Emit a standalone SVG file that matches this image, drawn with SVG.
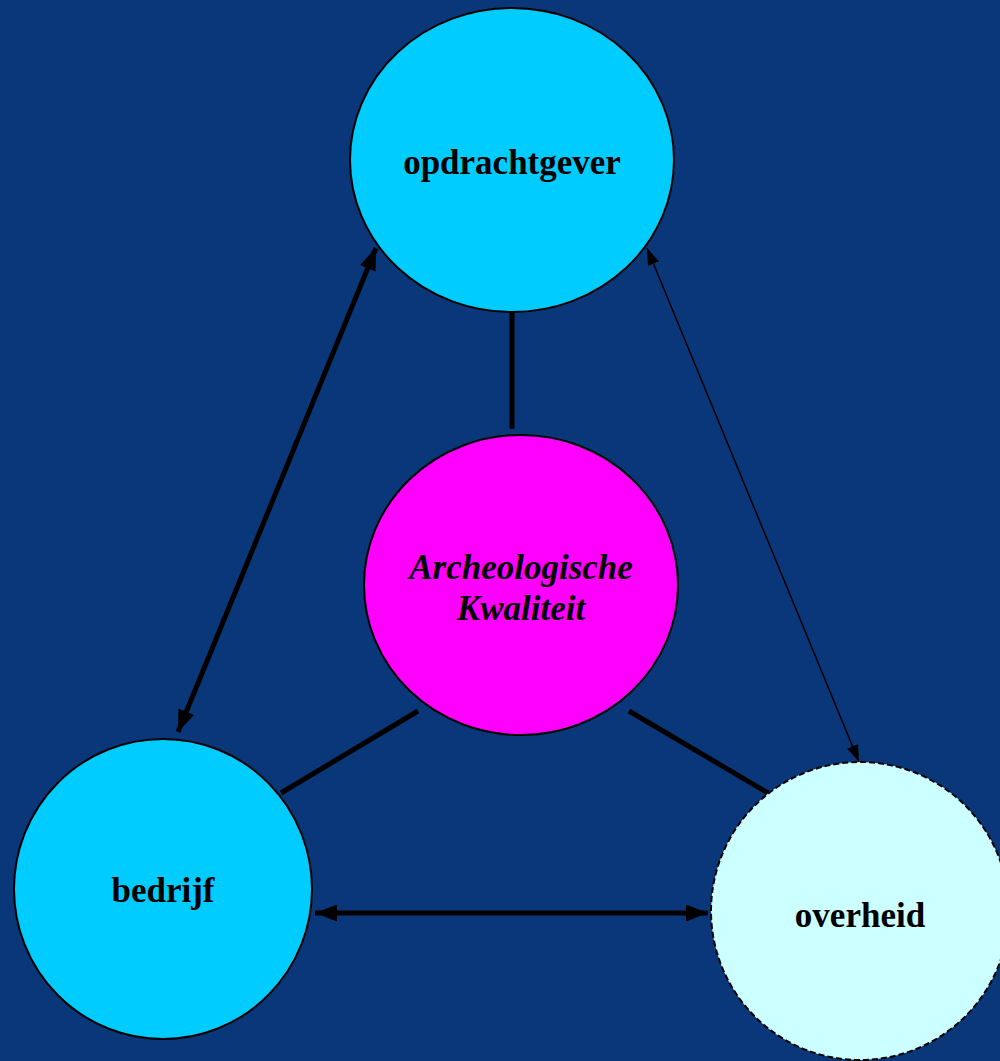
<svg xmlns="http://www.w3.org/2000/svg" width="1000" height="1061" viewBox="0 0 1000 1061">
<defs>
<style>
.node{stroke:#000;stroke-width:2}
.lbl{font-family:"Liberation Serif","Times New Roman",serif;font-weight:bold;font-size:35px;text-anchor:middle;fill:#000}
.link{stroke:#000;stroke-width:5;fill:none}
.thin{stroke:#000;stroke-width:1.5;fill:none}
</style>
<marker id="ah" markerUnits="userSpaceOnUse" viewBox="0 0 22 17" refX="22" refY="8.5" markerWidth="22" markerHeight="17" orient="auto-start-reverse">
<path d="M0,0 L22,8.5 L0,17 Z" fill="#000"/>
</marker>
<marker id="ahs" markerUnits="userSpaceOnUse" viewBox="0 0 17 12" refX="17" refY="6" markerWidth="17" markerHeight="12" orient="auto-start-reverse">
<path d="M0,0 L17,6 L0,12 Z" fill="#000"/>
</marker>
</defs>
<rect width="1000" height="1061" fill="#0A377A"/>
<g id="connectors">
<line class="link" x1="512" y1="313" x2="512" y2="429"/>
<line class="link" x1="418" y1="711" x2="281" y2="793"/>
<line class="link" x1="629" y1="711" x2="768" y2="793"/>
<line class="link" x1="178" y1="732" x2="376" y2="248" marker-start="url(#ah)" marker-end="url(#ah)"/>
<line class="thin" x1="647" y1="248" x2="859" y2="762" marker-start="url(#ahs)" marker-end="url(#ahs)"/>
<line class="link" x1="315" y1="913" x2="708" y2="913" marker-start="url(#ah)" marker-end="url(#ah)"/>
</g>
<g id="opdrachtgever">
<ellipse class="node" cx="512" cy="160" rx="162" ry="152" fill="#00CCFF"/>
<text class="lbl" x="512" y="174">opdrachtgever</text>
</g>
<g id="kwaliteit">
<ellipse class="node" cx="521" cy="585" rx="157" ry="150" fill="#FF00FF"/>
<text class="lbl" x="521" y="579" font-style="italic">Archeologische</text>
<text class="lbl" x="521" y="620" font-style="italic">Kwaliteit</text>
</g>
<g id="bedrijf">
<ellipse class="node" cx="163" cy="889" rx="149" ry="150" fill="#00CCFF"/>
<text class="lbl" x="163" y="902">bedrijf</text>
</g>
<g id="overheid">
<ellipse class="node" cx="860" cy="911" rx="149" ry="149" fill="#CCFFFF" stroke-dasharray="6,3"/>
<text class="lbl" x="860" y="927">overheid</text>
</g>
</svg>
